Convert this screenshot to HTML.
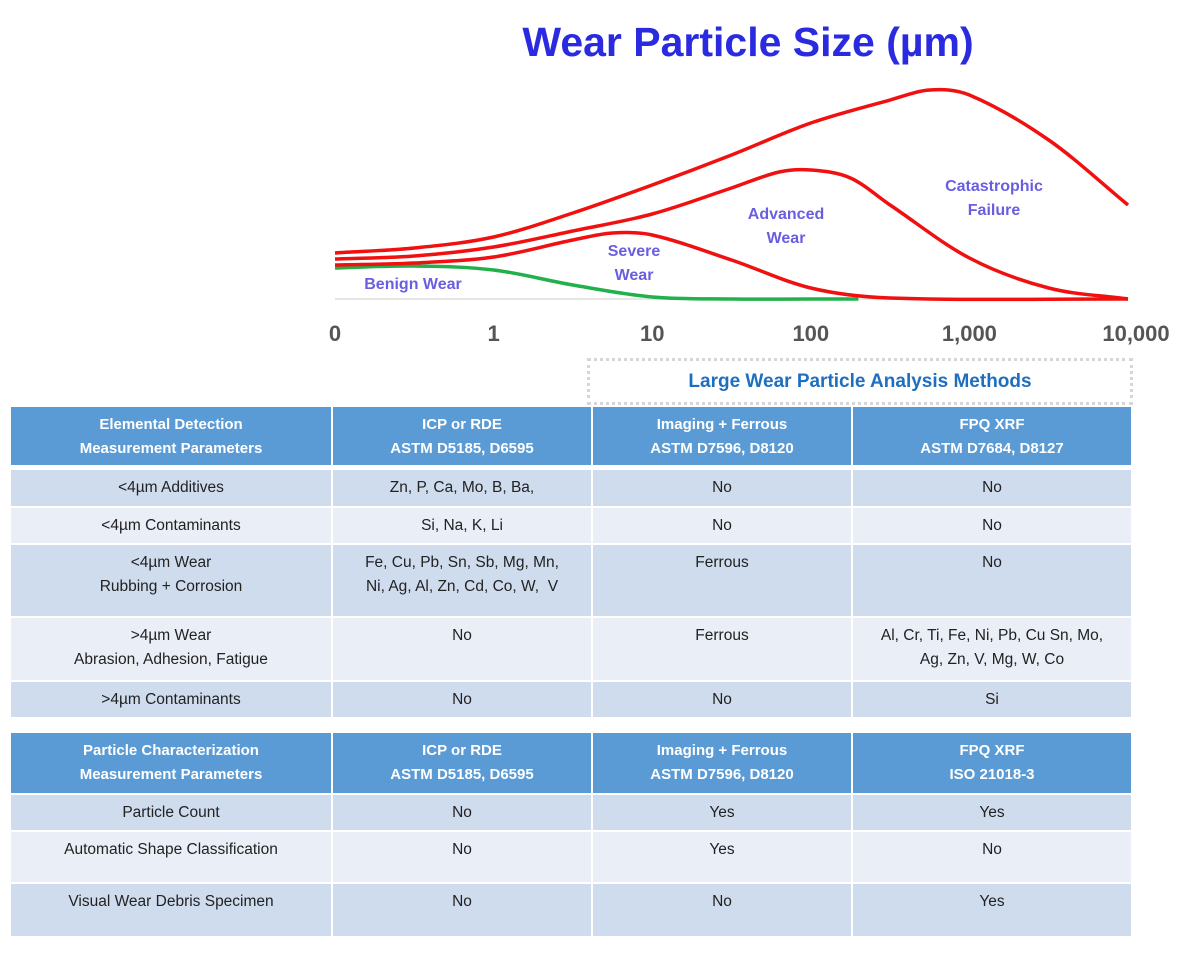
<!DOCTYPE html>
<html><head><meta charset="utf-8">
<style>
body{margin:0;background:#fff;width:1182px;height:955px;overflow:hidden;position:relative;font-family:"Liberation Sans",sans-serif;}
.c{position:absolute;box-sizing:border-box;text-align:center;font-size:15.5px;line-height:24px;color:#222;padding-top:6px;}
.h{background:#5b9bd5;color:#fff;font-weight:bold;font-size:15px;padding-top:6px;}
.a{background:#cfdcee;}
.b{background:#e9eef7;}
</style></head><body>
<div style="position:absolute;left:448px;top:19px;width:600px;text-align:center;font-size:41px;font-weight:bold;color:#2a2ae0;">Wear Particle Size (µm)</div>
<svg id="chart" width="1182" height="355" style="position:absolute;left:0;top:0">
<line x1="335" y1="299" x2="1128" y2="299" stroke="#e6e6e6" stroke-width="2"/>
<g id="curves"></g>
<g id="ticks" font-family="Liberation Sans" font-weight="bold" font-size="22" fill="#555" text-anchor="middle"></g>
<g font-family="Liberation Sans" font-weight="bold" font-size="16" fill="#6a5ee0" text-anchor="middle">
<text x="413" y="289">Benign Wear</text>
<text x="634" y="256">Severe</text>
<text x="634" y="280">Wear</text>
<text x="786" y="219">Advanced</text>
<text x="786" y="243">Wear</text>
<text x="994" y="191">Catastrophic</text>
<text x="994" y="215">Failure</text>
</g>
</svg>
<div style="position:absolute;left:587px;top:358px;width:546px;height:47px;box-sizing:border-box;border:3px dotted #d6d6d6;text-align:center;line-height:41px;font-size:19px;font-weight:bold;color:#1f6fc0;">Large Wear Particle Analysis Methods</div>
<div id="tables"></div>
<script>
const ticks=["0","1","10","100","1,000","10,000"];
const catX=[0,0.5,1,1.5,2,2.5,3,3.5,3.75,4,4.5,5];
const catY=[46,51,62,86,114,144,176,199,209,204,159,94];
const advX=[0,0.5,1,1.5,2,2.5,2.8,3,3.25,3.5,4,4.5,5];
const advY=[40,43,52,68,85,111,127,129,121,94,41,11,0];
const sevX=[0,0.5,1,1.5,1.75,2,2.5,3,3.5,5];
const sevY=[34,36,42,59,66,64,39,11,1,0];
const benX=[0,0.5,1,1.5,2,2.5,3,3.3];
const benY=[31,33,29,14,2,0,0,0];
function xs(d){return 335+d*158.6;}
function ys(v){return 299-v;}
function path(X,Y){
  const p=X.map((d,i)=>[xs(d),ys(Y[i])]);
  let s="M"+p[0][0]+","+p[0][1];
  for(let i=0;i<p.length-1;i++){
    const p0=p[Math.max(0,i-1)],p1=p[i],p2=p[i+1],p3=p[Math.min(p.length-1,i+2)];
    const dx=p2[0]-p1[0];
    const m1=(p2[1]-p0[1])/(p2[0]-p0[0]||1);
    const m2=(p3[1]-p1[1])/(p3[0]-p1[0]||1);
    const c1=[p1[0]+dx/3,p1[1]+m1*dx/3];
    const c2=[p2[0]-dx/3,p2[1]-m2*dx/3];
    s+=" C"+c1+" "+c2+" "+p2;
  }
  return s;
}
const NS="http://www.w3.org/2000/svg";
const g=document.getElementById("curves");
[[benX,benY,"#22b04a","curve-benign"],[sevX,sevY,"#f01010","curve-severe"],[advX,advY,"#f01010","curve-advanced"],[catX,catY,"#f01010","curve-catastrophic"]].forEach(s=>{
  const el=document.createElementNS(NS,"path");
  el.setAttribute("d",path(s[0],s[1]));
  el.setAttribute("fill","none");el.setAttribute("stroke",s[2]);el.setAttribute("stroke-width","3.5");
  
  
  g.appendChild(el);
});
const tg=document.getElementById("ticks");
ticks.forEach((t,i)=>{
  const el=document.createElementNS(NS,"text");
  el.setAttribute("x",xs(i)+(i==5?8:0));el.setAttribute("y",341);el.textContent=t;
  
  
  tg.appendChild(el);
});
const colX=[11,333,593,853,1133];
const rows=[
 [407,465,"h",["Elemental Detection<br>Measurement Parameters","ICP or RDE<br>ASTM D5185, D6595","Imaging + Ferrous<br>ASTM D7596, D8120","FPQ XRF<br>ASTM D7684, D8127"]],
 [470,506,"a",["&lt;4µm Additives","Zn, P, Ca, Mo, B, Ba,","No","No"]],
 [508,543,"b",["&lt;4µm Contaminants","Si, Na, K, Li","No","No"]],
 [545,616,"a",["&lt;4µm Wear<br>Rubbing + Corrosion","Fe, Cu, Pb, Sn, Sb, Mg, Mn,<br>Ni, Ag, Al, Zn, Cd, Co, W,&nbsp; V","Ferrous","No"]],
 [618,680,"b",["&gt;4µm Wear<br>Abrasion, Adhesion, Fatigue","No","Ferrous","Al, Cr, Ti, Fe, Ni, Pb, Cu Sn, Mo,<br>Ag, Zn, V, Mg, W, Co"]],
 [682,717,"a",["&gt;4µm Contaminants","No","No","Si"]],
 [733,793,"h",["Particle Characterization<br>Measurement Parameters","ICP or RDE<br>ASTM D5185, D6595","Imaging + Ferrous<br>ASTM D7596, D8120","FPQ XRF<br>ISO 21018-3"]],
 [795,830,"a",["Particle Count","No","Yes","Yes"]],
 [832,882,"b",["Automatic Shape Classification","No","Yes","No"]],
 [884,936,"a",["Visual Wear Debris Specimen","No","No","Yes"]]
];
const T=document.getElementById("tables");
rows.forEach(r=>{
  r[3].forEach((t,j)=>{
    const d=document.createElement("div");
    d.className="c "+r[2];
    d.style.left=colX[j]+"px";d.style.top=r[0]+"px";
    d.style.width=(colX[j+1]-colX[j]-2)+"px";d.style.height=(r[1]-r[0])+"px";
    d.innerHTML=t;
    
    
    T.appendChild(d);
  });
});
</script>
</body></html>
